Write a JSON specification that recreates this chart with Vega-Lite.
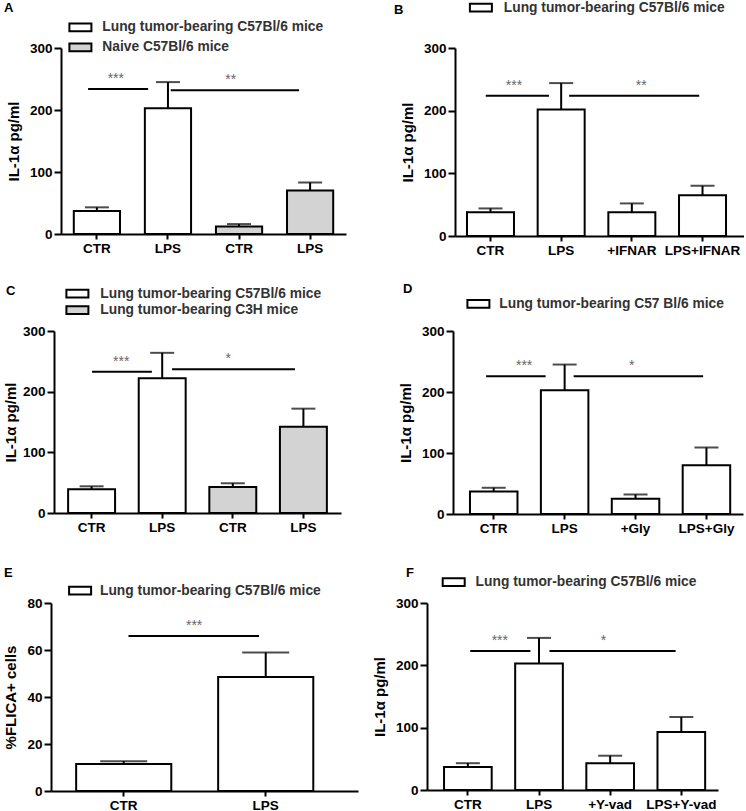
{
  "$schema": "https://vega.github.io/schema/vega-lite/v6.json",
  "padding": {"left": 3, "top": 0, "right": 0, "bottom": 0},
  "columns": 1,
  "align": "none",
  "spacing": 26,
  "resolve": {"scale": {"x": "independent", "y": "independent", "fill": "independent"}, "legend": {"fill": "independent"}},
  "datasets": {
    "A": [
      {"group": "CTR|1", "strain": "Lung tumor-bearing C57Bl/6 mice", "mean": 37, "upper": 43},
      {"group": "LPS|1", "strain": "Lung tumor-bearing C57Bl/6 mice", "mean": 203, "upper": 245},
      {"group": "CTR|2", "strain": "Naive C57Bl/6 mice", "mean": 12, "upper": 16},
      {"group": "LPS|2", "strain": "Naive C57Bl/6 mice", "mean": 70, "upper": 83}
    ],
    "B": [
      {"group": "CTR", "strain": "Lung tumor-bearing C57Bl/6 mice", "mean": 38, "upper": 44},
      {"group": "LPS", "strain": "Lung tumor-bearing C57Bl/6 mice", "mean": 202, "upper": 244},
      {"group": "+IFNAR", "strain": "Lung tumor-bearing C57Bl/6 mice", "mean": 38, "upper": 52},
      {"group": "LPS+IFNAR", "strain": "Lung tumor-bearing C57Bl/6 mice", "mean": 65, "upper": 80}
    ],
    "C": [
      {"group": "CTR|1", "strain": "Lung tumor-bearing C57Bl/6 mice", "mean": 39, "upper": 44},
      {"group": "LPS|1", "strain": "Lung tumor-bearing C57Bl/6 mice", "mean": 222, "upper": 264},
      {"group": "CTR|2", "strain": "Lung tumor-bearing C3H mice", "mean": 43, "upper": 49},
      {"group": "LPS|2", "strain": "Lung tumor-bearing C3H mice", "mean": 142, "upper": 172}
    ],
    "D": [
      {"group": "CTR", "strain": "Lung tumor-bearing C57 Bl/6 mice", "mean": 37, "upper": 43},
      {"group": "LPS", "strain": "Lung tumor-bearing C57 Bl/6 mice", "mean": 203, "upper": 245},
      {"group": "+Gly", "strain": "Lung tumor-bearing C57 Bl/6 mice", "mean": 25, "upper": 32},
      {"group": "LPS+Gly", "strain": "Lung tumor-bearing C57 Bl/6 mice", "mean": 80, "upper": 109}
    ],
    "E": [
      {"group": "CTR", "strain": "Lung tumor-bearing C57Bl/6 mice", "mean": 11.5, "upper": 12.7},
      {"group": "LPS", "strain": "Lung tumor-bearing C57Bl/6 mice", "mean": 48.5, "upper": 58.9}
    ],
    "F": [
      {"group": "CTR", "strain": "Lung tumor-bearing C57Bl/6 mice", "mean": 37, "upper": 43},
      {"group": "LPS", "strain": "Lung tumor-bearing C57Bl/6 mice", "mean": 203, "upper": 244},
      {"group": "+Y-vad", "strain": "Lung tumor-bearing C57Bl/6 mice", "mean": 43, "upper": 55},
      {"group": "LPS+Y-vad", "strain": "Lung tumor-bearing C57Bl/6 mice", "mean": 93, "upper": 117}
    ]
  },
  "concat": [
    {
      "hconcat": [
        {
          "width": 285, "height": 186,
          "title": {"text": "A", "anchor": "start", "frame": "group", "dx": -57, "dy": -2},
          "layer": [
            {"data": {"name": "A"}, "mark": {"type": "bar", "stroke": "black", "strokeWidth": 2},
             "encoding": {
               "x": {"field": "group", "type": "nominal", "title": null, "scale": {"domain": ["CTR|1", "LPS|1", "CTR|2", "LPS|2"], "paddingInner": 0.35, "paddingOuter": 0.18}, "axis": {"labelExpr": "split(datum.label,'|')[0]"}},
               "y": {"field": "mean", "type": "quantitative", "title": "IL-1α pg/ml", "scale": {"domain": [0, 300]}, "axis": {"values": [0, 100, 200, 300]}},
               "fill": {"field": "strain", "type": "nominal", "scale": {"domain": ["Lung tumor-bearing C57Bl/6 mice", "Naive C57Bl/6 mice"], "range": ["white", "#d3d3d3"]}, "legend": {"title": null, "orient": "none", "legendX": 12.5, "legendY": -27.5, "labelOffset": 15, "rowPadding": 4}}
             }},
            {"data": {"name": "A"}, "mark": {"type": "rule", "strokeWidth": 2, "color": "black"},
             "encoding": {"x": {"field": "group", "type": "nominal", "title": null}, "y": {"field": "mean", "type": "quantitative", "title": "IL-1α pg/ml"}, "y2": {"field": "upper"}}},
            {"data": {"name": "A"}, "mark": {"type": "tick", "orient": "horizontal", "size": 24, "thickness": 2, "color": "black"},
             "encoding": {"x": {"field": "group", "type": "nominal", "title": null}, "y": {"field": "upper", "type": "quantitative", "title": "IL-1α pg/ml"}}},
            {"data": {"values": [{"from": "CTR|1", "to": "LPS|1", "y": 234}]}, "mark": {"type": "rule", "strokeWidth": 2, "color": "black"},
             "encoding": {"x": {"field": "from", "type": "nominal", "bandPosition": 0.31, "title": null}, "x2": {"field": "to", "bandPosition": 0.07}, "y": {"field": "y", "type": "quantitative", "title": "IL-1α pg/ml"}}},
            {"data": {"values": [{"from": "LPS|1", "to": "LPS|2", "y": 232}]}, "mark": {"type": "rule", "strokeWidth": 2, "color": "black"},
             "encoding": {"x": {"field": "from", "type": "nominal", "bandPosition": 0.56, "title": null}, "x2": {"field": "to", "bandPosition": 0.26}, "y": {"field": "y", "type": "quantitative", "title": "IL-1α pg/ml"}}},
            {"data": {"values": [{"at": "CTR|1", "y": 234, "label": "***"}]}, "mark": {"type": "text", "baseline": "bottom", "dy": -3, "fontSize": 14, "color": "#666"},
             "encoding": {"x": {"field": "at", "type": "nominal", "bandPosition": 0.91, "title": null}, "y": {"field": "y", "type": "quantitative", "title": "IL-1α pg/ml"}, "text": {"field": "label"}}},
            {"data": {"values": [{"at": "CTR|2", "y": 232, "label": "**"}]}, "mark": {"type": "text", "baseline": "bottom", "dy": -3, "fontSize": 14, "color": "#666"},
             "encoding": {"x": {"field": "at", "type": "nominal", "bandPosition": 0.32, "title": null}, "y": {"field": "y", "type": "quantitative", "title": "IL-1α pg/ml"}, "text": {"field": "label"}}}
          ]
        },
        {
          "width": 289, "height": 188,
          "title": {"text": "B", "anchor": "start", "frame": "group", "dx": -61, "dy": 20},
          "layer": [
            {"data": {"name": "B"}, "mark": {"type": "bar", "stroke": "black", "strokeWidth": 2},
             "encoding": {
               "x": {"field": "group", "type": "nominal", "title": null, "scale": {"domain": ["CTR", "LPS", "+IFNAR", "LPS+IFNAR"], "paddingInner": 0.335, "paddingOuter": 0.212, "align": 0.4}},
               "y": {"field": "mean", "type": "quantitative", "title": "IL-1α pg/ml", "scale": {"domain": [0, 300]}, "axis": {"values": [0, 100, 200, 300]}},
               "fill": {"field": "strain", "type": "nominal", "scale": {"domain": ["Lung tumor-bearing C57Bl/6 mice"], "range": ["white"]}, "legend": {"title": null, "orient": "none", "legendX": 19, "legendY": -47.3, "labelOffset": 16}}
             }},
            {"data": {"name": "B"}, "mark": {"type": "rule", "strokeWidth": 2, "color": "black"},
             "encoding": {"x": {"field": "group", "type": "nominal", "title": null}, "y": {"field": "mean", "type": "quantitative", "title": "IL-1α pg/ml"}, "y2": {"field": "upper"}}},
            {"data": {"name": "B"}, "mark": {"type": "tick", "orient": "horizontal", "size": 24, "thickness": 2, "color": "black"},
             "encoding": {"x": {"field": "group", "type": "nominal", "title": null}, "y": {"field": "upper", "type": "quantitative", "title": "IL-1α pg/ml"}}},
            {"data": {"values": [{"from": "CTR", "to": "LPS", "y": 224}]}, "mark": {"type": "rule", "strokeWidth": 2, "color": "black"},
             "encoding": {"x": {"field": "from", "type": "nominal", "bandPosition": 0.4, "title": null}, "x2": {"field": "to", "bandPosition": 0.24}, "y": {"field": "y", "type": "quantitative", "title": "IL-1α pg/ml"}}},
            {"data": {"values": [{"from": "LPS", "to": "LPS+IFNAR", "y": 224}]}, "mark": {"type": "rule", "strokeWidth": 2, "color": "black"},
             "encoding": {"x": {"field": "from", "type": "nominal", "bandPosition": 0.67, "title": null}, "x2": {"field": "to", "bandPosition": 0.43}, "y": {"field": "y", "type": "quantitative", "title": "IL-1α pg/ml"}}},
            {"data": {"values": [{"at": "CTR", "y": 224, "label": "***"}]}, "mark": {"type": "text", "baseline": "bottom", "dy": -3, "fontSize": 14, "color": "#666"},
             "encoding": {"x": {"field": "at", "type": "nominal", "bandPosition": 1.0, "title": null}, "y": {"field": "y", "type": "quantitative", "title": "IL-1α pg/ml"}, "text": {"field": "label"}}},
            {"data": {"values": [{"at": "+IFNAR", "y": 224, "label": "**"}]}, "mark": {"type": "text", "baseline": "bottom", "dy": -3, "fontSize": 14, "color": "#666"},
             "encoding": {"x": {"field": "at", "type": "nominal", "bandPosition": 0.7, "title": null}, "y": {"field": "y", "type": "quantitative", "title": "IL-1α pg/ml"}, "text": {"field": "label"}}}
          ]
        }
      ],
      "spacing": 48,
      "resolve": {"scale": {"x": "independent", "y": "independent", "fill": "independent"}, "legend": {"fill": "independent"}}
    },
    {
      "columns": 1,
      "align": "none",
      "spacing": 31,
      "resolve": {"scale": {"x": "independent", "y": "independent", "fill": "independent"}, "legend": {"fill": "independent"}},
      "concat": [
        {
          "hconcat": [
            {
              "width": 280, "height": 182,
              "title": {"text": "C", "anchor": "start", "frame": "group", "dx": -55, "dy": 15},
              "layer": [
                {"data": {"name": "C"}, "mark": {"type": "bar", "stroke": "black", "strokeWidth": 2},
                 "encoding": {
                   "x": {"field": "group", "type": "nominal", "title": null, "scale": {"domain": ["CTR|1", "LPS|1", "CTR|2", "LPS|2"], "range": [-7, 280], "paddingInner": 0.335, "paddingOuter": 0.2}, "axis": {"labelExpr": "split(datum.label,'|')[0]"}},
                   "y": {"field": "mean", "type": "quantitative", "title": "IL-1α pg/ml", "scale": {"domain": [0, 300]}, "axis": {"values": [0, 100, 200, 300], "titlePadding": 4, "offset": 7}},
                   "fill": {"field": "strain", "type": "nominal", "scale": {"domain": ["Lung tumor-bearing C57Bl/6 mice", "Lung tumor-bearing C3H mice"], "range": ["white", "#d3d3d3"]}, "legend": {"title": null, "orient": "none", "legendX": 9.5, "legendY": -44.3, "labelOffset": 16, "rowPadding": 0.6}}
                 }},
                {"data": {"name": "C"}, "mark": {"type": "rule", "strokeWidth": 2, "color": "black"},
                 "encoding": {"x": {"field": "group", "type": "nominal", "title": null}, "y": {"field": "mean", "type": "quantitative", "title": "IL-1α pg/ml"}, "y2": {"field": "upper"}}},
                {"data": {"name": "C"}, "mark": {"type": "tick", "orient": "horizontal", "size": 24, "thickness": 2, "color": "black"},
                 "encoding": {"x": {"field": "group", "type": "nominal", "title": null}, "y": {"field": "upper", "type": "quantitative", "title": "IL-1α pg/ml"}}},
                {"data": {"values": [{"from": "CTR|1", "to": "LPS|1", "y": 233}]}, "mark": {"type": "rule", "strokeWidth": 2, "color": "black"},
                 "encoding": {"x": {"field": "from", "type": "nominal", "bandPosition": 0.51, "title": null}, "x2": {"field": "to", "bandPosition": 0.28}, "y": {"field": "y", "type": "quantitative", "title": "IL-1α pg/ml"}}},
                {"data": {"values": [{"from": "LPS|1", "to": "LPS|2", "y": 237}]}, "mark": {"type": "rule", "strokeWidth": 2, "color": "black"},
                 "encoding": {"x": {"field": "from", "type": "nominal", "bandPosition": 0.71, "title": null}, "x2": {"field": "to", "bandPosition": 0.32}, "y": {"field": "y", "type": "quantitative", "title": "IL-1α pg/ml"}}},
                {"data": {"values": [{"at": "CTR|1", "y": 233, "label": "***"}]}, "mark": {"type": "text", "baseline": "bottom", "dy": -3, "fontSize": 14, "color": "#666"},
                 "encoding": {"x": {"field": "at", "type": "nominal", "bandPosition": 1.13, "title": null}, "y": {"field": "y", "type": "quantitative", "title": "IL-1α pg/ml"}, "text": {"field": "label"}}},
                {"data": {"values": [{"at": "CTR|2", "y": 237, "label": "*"}]}, "mark": {"type": "text", "baseline": "bottom", "dy": -3, "fontSize": 14, "color": "#666"},
                 "encoding": {"x": {"field": "at", "type": "nominal", "bandPosition": 0.4, "title": null}, "y": {"field": "y", "type": "quantitative", "title": "IL-1α pg/ml"}, "text": {"field": "label"}}}
              ]
            },
            {
              "width": 290, "height": 183,
              "title": {"text": "D", "anchor": "start", "frame": "group", "dx": -50, "dy": 3},
              "layer": [
                {"data": {"name": "D"}, "mark": {"type": "bar", "stroke": "black", "strokeWidth": 2},
                 "encoding": {
                   "x": {"field": "group", "type": "nominal", "title": null, "scale": {"domain": ["CTR", "LPS", "+Gly", "LPS+Gly"], "paddingInner": 0.33, "paddingOuter": 0.21, "align": 0.57}},
                   "y": {"field": "mean", "type": "quantitative", "title": "IL-1α pg/ml", "scale": {"domain": [0, 300]}, "axis": {"values": [0, 100, 200, 300]}},
                   "fill": {"field": "strain", "type": "nominal", "scale": {"domain": ["Lung tumor-bearing C57 Bl/6 mice"], "range": ["white"]}, "legend": {"title": null, "orient": "none", "legendX": 18.5, "legendY": -34, "labelOffset": 14}}
                 }},
                {"data": {"name": "D"}, "mark": {"type": "rule", "strokeWidth": 2, "color": "black"},
                 "encoding": {"x": {"field": "group", "type": "nominal", "title": null}, "y": {"field": "mean", "type": "quantitative", "title": "IL-1α pg/ml"}, "y2": {"field": "upper"}}},
                {"data": {"name": "D"}, "mark": {"type": "tick", "orient": "horizontal", "size": 24, "thickness": 2, "color": "black"},
                 "encoding": {"x": {"field": "group", "type": "nominal", "title": null}, "y": {"field": "upper", "type": "quantitative", "title": "IL-1α pg/ml"}}},
                {"data": {"values": [{"from": "CTR", "to": "LPS", "y": 226}]}, "mark": {"type": "rule", "strokeWidth": 2, "color": "black"},
                 "encoding": {"x": {"field": "from", "type": "nominal", "bandPosition": 0.34, "title": null}, "x2": {"field": "to", "bandPosition": 0.1}, "y": {"field": "y", "type": "quantitative", "title": "IL-1α pg/ml"}}},
                {"data": {"values": [{"from": "LPS", "to": "LPS+Gly", "y": 226}]}, "mark": {"type": "rule", "strokeWidth": 2, "color": "black"},
                 "encoding": {"x": {"field": "from", "type": "nominal", "bandPosition": 0.69, "title": null}, "x2": {"field": "to", "bandPosition": 0.43}, "y": {"field": "y", "type": "quantitative", "title": "IL-1α pg/ml"}}},
                {"data": {"values": [{"at": "CTR", "y": 226, "label": "***"}]}, "mark": {"type": "text", "baseline": "bottom", "dy": -3, "fontSize": 14, "color": "#666"},
                 "encoding": {"x": {"field": "at", "type": "nominal", "bandPosition": 1.14, "title": null}, "y": {"field": "y", "type": "quantitative", "title": "IL-1α pg/ml"}, "text": {"field": "label"}}},
                {"data": {"values": [{"at": "+Gly", "y": 226, "label": "*"}]}, "mark": {"type": "text", "baseline": "bottom", "dy": -3, "fontSize": 14, "color": "#666"},
                 "encoding": {"x": {"field": "at", "type": "nominal", "bandPosition": 0.42, "title": null}, "y": {"field": "y", "type": "quantitative", "title": "IL-1α pg/ml"}, "text": {"field": "label"}}}
              ]
            }
          ],
          "spacing": 50,
          "resolve": {"scale": {"x": "independent", "y": "independent", "fill": "independent"}, "legend": {"fill": "independent"}}
        },
        {
          "hconcat": [
            {
              "width": 297, "height": 188,
              "title": {"text": "E", "anchor": "start", "frame": "group", "dx": -57, "dy": 0},
              "layer": [
                {"data": {"name": "E"}, "mark": {"type": "bar", "stroke": "black", "strokeWidth": 2},
                 "encoding": {
                   "x": {"field": "group", "type": "nominal", "title": null, "scale": {"domain": ["CTR", "LPS"], "range": [-10, 297], "paddingInner": 0.33, "paddingOuter": 0.246, "align": 0.36}},
                   "y": {"field": "mean", "type": "quantitative", "title": "%FLICA+ cells", "scale": {"domain": [0, 80]}, "axis": {"values": [0, 20, 40, 60, 80], "offset": 10}},
                   "fill": {"field": "strain", "type": "nominal", "scale": {"domain": ["Lung tumor-bearing C57Bl/6 mice"], "range": ["white"]}, "legend": {"title": null, "orient": "none", "legendX": 12.2, "legendY": -19.3, "labelOffset": 13}}
                 }},
                {"data": {"name": "E"}, "mark": {"type": "rule", "strokeWidth": 2, "color": "black"},
                 "encoding": {"x": {"field": "group", "type": "nominal", "title": null}, "y": {"field": "mean", "type": "quantitative", "title": "%FLICA+ cells"}, "y2": {"field": "upper"}}},
                {"data": {"name": "E"}, "mark": {"type": "tick", "orient": "horizontal", "size": 47, "thickness": 2, "color": "black"},
                 "encoding": {"x": {"field": "group", "type": "nominal", "title": null}, "y": {"field": "upper", "type": "quantitative", "title": "%FLICA+ cells"}}},
                {"data": {"values": [{"from": "CTR", "to": "LPS", "y": 66}]}, "mark": {"type": "rule", "strokeWidth": 2, "color": "black"},
                 "encoding": {"x": {"field": "from", "type": "nominal", "bandPosition": 0.55, "title": null}, "x2": {"field": "to", "bandPosition": 0.43}, "y": {"field": "y", "type": "quantitative", "title": "%FLICA+ cells"}}},
                {"data": {"values": [{"at": "CTR", "y": 66, "label": "***"}]}, "mark": {"type": "text", "baseline": "bottom", "dy": -3, "fontSize": 14, "color": "#666"},
                 "encoding": {"x": {"field": "at", "type": "nominal", "bandPosition": 1.24, "title": null}, "y": {"field": "y", "type": "quantitative", "title": "%FLICA+ cells"}, "text": {"field": "label"}}}
              ]
            },
            {
              "width": 291, "height": 187,
              "title": {"text": "F", "anchor": "start", "frame": "group", "dx": -21, "dy": 9},
              "layer": [
                {"data": {"name": "F"}, "mark": {"type": "bar", "stroke": "black", "strokeWidth": 2},
                 "encoding": {
                   "x": {"field": "group", "type": "nominal", "title": null, "scale": {"domain": ["CTR", "LPS", "+Y-vad", "LPS+Y-vad"], "paddingInner": 0.33, "paddingOuter": 0.21, "align": 0.57}},
                   "y": {"field": "mean", "type": "quantitative", "title": "IL-1α pg/ml", "scale": {"domain": [0, 300]}, "axis": {"values": [0, 100, 200, 300]}},
                   "fill": {"field": "strain", "type": "nominal", "scale": {"domain": ["Lung tumor-bearing C57Bl/6 mice"], "range": ["white"]}, "legend": {"title": null, "orient": "none", "legendX": 19.8, "legendY": -27.7, "labelOffset": 15}}
                 }},
                {"data": {"name": "F"}, "mark": {"type": "rule", "strokeWidth": 2, "color": "black"},
                 "encoding": {"x": {"field": "group", "type": "nominal", "title": null}, "y": {"field": "mean", "type": "quantitative", "title": "IL-1α pg/ml"}, "y2": {"field": "upper"}}},
                {"data": {"name": "F"}, "mark": {"type": "tick", "orient": "horizontal", "size": 24, "thickness": 2, "color": "black"},
                 "encoding": {"x": {"field": "group", "type": "nominal", "title": null}, "y": {"field": "upper", "type": "quantitative", "title": "IL-1α pg/ml"}}},
                {"data": {"values": [{"from": "CTR", "to": "LPS", "y": 223}]}, "mark": {"type": "rule", "strokeWidth": 2, "color": "black"},
                 "encoding": {"x": {"field": "from", "type": "nominal", "bandPosition": 0.55, "title": null}, "x2": {"field": "to", "bandPosition": 0.32}, "y": {"field": "y", "type": "quantitative", "title": "IL-1α pg/ml"}}},
                {"data": {"values": [{"from": "LPS", "to": "LPS+Y-vad", "y": 223}]}, "mark": {"type": "rule", "strokeWidth": 2, "color": "black"},
                 "encoding": {"x": {"field": "from", "type": "nominal", "bandPosition": 0.72, "title": null}, "x2": {"field": "to", "bandPosition": 0.38}, "y": {"field": "y", "type": "quantitative", "title": "IL-1α pg/ml"}}},
                {"data": {"values": [{"at": "CTR", "y": 223, "label": "***"}]}, "mark": {"type": "text", "baseline": "bottom", "dy": -3, "fontSize": 14, "color": "#666"},
                 "encoding": {"x": {"field": "at", "type": "nominal", "bandPosition": 1.17, "title": null}, "y": {"field": "y", "type": "quantitative", "title": "IL-1α pg/ml"}, "text": {"field": "label"}}},
                {"data": {"values": [{"at": "+Y-vad", "y": 223, "label": "*"}]}, "mark": {"type": "text", "baseline": "bottom", "dy": -3, "fontSize": 14, "color": "#666"},
                 "encoding": {"x": {"field": "at", "type": "nominal", "bandPosition": 0.36, "title": null}, "y": {"field": "y", "type": "quantitative", "title": "IL-1α pg/ml"}, "text": {"field": "label"}}}
              ]
            }
          ],
          "spacing": 4,
          "resolve": {"scale": {"x": "independent", "y": "independent", "fill": "independent"}, "legend": {"fill": "independent"}}
        }
      ]
    }
  ],
  "config": {
    "font": "Liberation Sans",
    "view": {"stroke": null},
    "title": {"fontSize": 13, "fontWeight": "bold", "color": "black", "offset": 4},
    "axis": {"domainColor": "black", "domainWidth": 2, "tickColor": "black", "tickWidth": 2, "grid": false, "labelColor": "black", "labelFontWeight": "bold", "labelFontSize": 13.5, "titleColor": "black", "titleFontWeight": "bold", "titleFontSize": 15},
    "axisY": {"tickSize": 7, "labelPadding": 2, "titlePadding": 8},
    "axisX": {"ticks": true, "tickSize": 5, "labelAngle": 0, "labelPadding": 2, "labelFontSize": 13.5},
    "legend": {"symbolType": "M-2,-0.7H2V0.7H-2Z", "symbolSize": 121, "symbolStrokeColor": "black", "symbolStrokeWidth": 2, "labelFontSize": 13.8, "labelFontWeight": "bold", "labelColor": "#333", "labelLimit": 400, "padding": 0, "rowPadding": 8}
  }
}
